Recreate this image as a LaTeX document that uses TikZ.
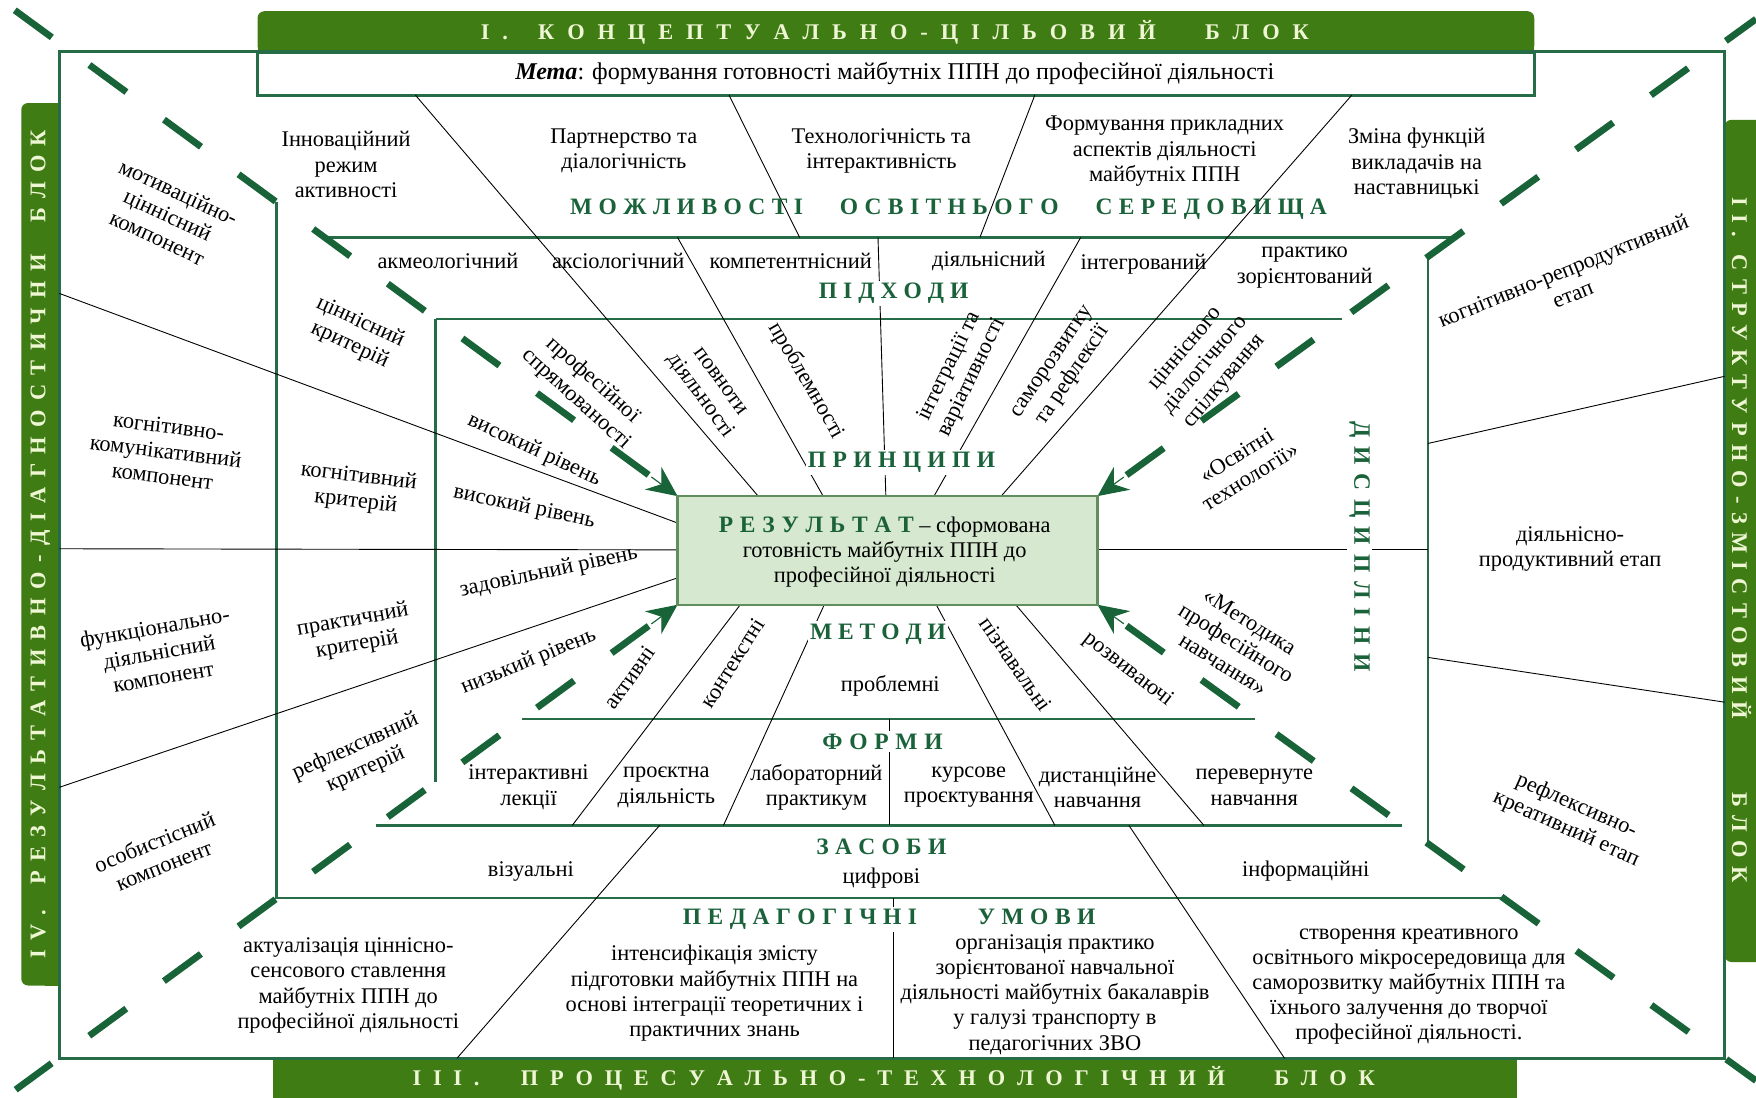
\documentclass[tikz,border=0pt]{standalone}
\usepackage{fontspec}
\setmainfont{Liberation Serif}
\usetikzlibrary{arrows.meta,calc}

\definecolor{bannerg}{RGB}{64,124,20}
\definecolor{bantext}{RGB}{238,246,212}
\definecolor{titleg}{RGB}{26,98,58}
\definecolor{lineg}{RGB}{38,108,70}
\definecolor{dashg}{RGB}{24,100,56}
\definecolor{resfill}{RGB}{214,232,207}
\definecolor{resborder}{RGB}{96,142,92}

\newdimen\lsp
\newdimen\gapA
\newdimen\gapB
\def\endmark{endmark}
\def\gA{\kern\gapA}
\def\gB{\kern\gapB}
\def\spaced#1{\spacedA#1\endmark\kern-\lsp}
\def\spacedA#1{\ifx#1\endmark\else#1\kern\lsp\expandafter\spacedA\fi}

\begin{document}
\begin{tikzpicture}[x=1pt,y=-1pt,
  txt/.style={font=\fontsize{20}{22.5}\selectfont, align=center, inner sep=0pt},
  ttl/.style={font=\bfseries\fontsize{21}{23}\selectfont, text=titleg, inner sep=2pt},
  ttlw/.style={ttl, fill=white},
  bantxt/.style={font=\bfseries\fontsize{20}{22}\selectfont, text=bantext, inner sep=0pt},
  frameln/.style={draw=lineg, line width=3.2pt},
  bandln/.style={draw=lineg, line width=2.3pt},
  rayln/.style={draw=black, line width=0.8pt},
  diagln/.style={draw=dashg, line width=6pt, dash pattern=on 41pt off 41.6pt},
  cornerarrow/.style={draw=dashg, fill=dashg, line width=1pt, -{Stealth[length=27pt,width=25pt,inset=9pt]}},
  resbox/.style={draw=resborder, fill=resfill, line width=2.2pt, minimum width=375pt, minimum height=97pt, inner sep=0pt}
]
\useasboundingbox (0,0) rectangle (1568,980);

% banners
\fill[bannerg, rounded corners=6pt] (230,10) rectangle (1370,47);
\fill[bannerg] (230,30) rectangle (1370,47);
\fill[bannerg, rounded corners=6pt] (19,92) rectangle (53,880);
\fill[bannerg] (40,92) rectangle (53,880);
\fill[bannerg, rounded corners=6pt] (1540,107) rectangle (1600,859);
\fill[bannerg] (244,945) rectangle (1355,990);

% outer frame
\draw[frameln] (53,46) rectangle (1540,945);
% goal box
\draw[draw=lineg, line width=2.5pt, fill=white] (230,47) rectangle (1370,85);

% corner coordinates
\coordinate (bNW) at (605,443);
\coordinate (bNE) at (980,443);
\coordinate (bSW) at (605,540);
\coordinate (bSE) at (980,540);
\coordinate (TLo) at (13,9);
\coordinate (TRo) at (1568,17);
\coordinate (BLo) at (14,973);
\coordinate (BRo) at (1568,965);

% band lines
\draw[bandln] (290,212) -- (1299,212);
\draw[bandln] (389.5,285) -- (1198,285);
\draw[bandln] (247,180.6) -- (247,802) -- (1342.5,802);
\draw[bandln] (389,284.7) -- (389,698.3);
\draw[bandln] (1275,229.3) -- (1275,753.2);
\draw[bandln] (466,642) -- (1121,642);
\draw[bandln] (336,737) -- (1252,737);

% black rays
\draw[rayln] (371,85) -- (677,443);
\draw[rayln] (651,85) -- (714,212);
\draw[rayln] (605,212) -- (735,443);
\draw[rayln] (784,212) -- (791,443);
\draw[rayln] (965,212) -- (834,443);
\draw[rayln] (924,85) -- (875,212);
\draw[rayln] (1207,85) -- (894,443);
\draw[rayln] (53,262) -- (605,467);
\draw[rayln] (53,490) -- (605,491);
\draw[rayln] (53,703) -- (605,516);
\draw[rayln] (980,491) -- (1275,491);
\draw[rayln] (1275,396) -- (1540,336);
\draw[rayln] (1275,587) -- (1540,627);
\draw[rayln] (661,540) -- (511,737);
\draw[rayln] (736,540) -- (646,737);
\draw[rayln] (794,642) -- (794,737);
\draw[rayln] (836,540) -- (942,737);
\draw[rayln] (907,540) -- (1075,737);
\draw[rayln] (589,737) -- (408,945);
\draw[rayln] (1008,737) -- (1147,945);
\draw[rayln] (798,802) -- (798,945);

% dashed diagonals and arrows
\draw[diagln] ($(bNW)!32pt!(TLo)$) -- (TLo);
\draw[diagln] ($(bNE)!32pt!(TRo)$) -- (TRo);
\draw[diagln] ($(bSW)!32pt!(BLo)$) -- (BLo);
\draw[diagln] ($(bSE)!32pt!(BRo)$) -- (BRo);
\draw[cornerarrow] ($(bNW)!29pt!(TLo)$) -- (bNW);
\draw[cornerarrow] ($(bNE)!29pt!(TRo)$) -- (bNE);
\draw[cornerarrow] ($(bSW)!29pt!(BLo)$) -- (bSW);
\draw[cornerarrow] ($(bSE)!29pt!(BRo)$) -- (bSE);

% result box
\node[resbox] (res) at (792.5,491.5) {};
\node[txt] (restext) at (790,493) {{\color{titleg}\bfseries\fontsize{21}{22}\selectfont\lsp=6pt\spaced{РЕЗУЛЬТАТ}}\kern5pt– сформована\\готовність майбутніх ППН до\\професійної діяльності};

% banner texts
\node[bantxt] (t1) at (799,29) {\lsp=11.5pt\gapA=4pt\gapB=21pt\spaced{I.\gA КОНЦЕПТУАЛЬНО-ЦІЛЬОВИЙ\gB БЛОК}};
\node[bantxt, rotate=-90] (t2) at (1555,482) {\lsp=7.5pt\gapA=1pt\gapB=50pt\spaced{II.\gA СТРУКТУРНО-ЗМІСТОВИЙ\gB БЛОК}};
\node[bantxt] (t3) at (798,963) {\lsp=10.5pt\gapA=16pt\gapB=23pt\spaced{III.\gA ПРОЦЕСУАЛЬНО-ТЕХНОЛОГІЧНИЙ\gB БЛОК}};
\node[bantxt, rotate=90] (t4) at (36,486) {\lsp=8.3pt\gapA=5.4pt\gapB=11.4pt\spaced{IV.\gA РЕЗУЛЬТАТИВНО-ДІАГНОСТИЧНИ\gB БЛОК}};

% goal
\node[txt, font=\fontsize{21.5}{23}\selectfont] (meta) at (799,66) {\textbf{\textit{Мета}}: формування готовності майбутніх ППН до професійної діяльності};

% opportunities
\node[txt] (o1) at (309,147) {Інноваційний\\режим\\активності};
\node[txt] (o2) at (557,135) {Партнерство та\\діалогічність};
\node[txt] (o3) at (787,135) {Технологічність та\\інтерактивність};
\node[txt] (o4) at (1040,135) {Формування прикладних\\аспектів діяльності\\майбутніх ППН};
\node[txt] (o5) at (1265,146) {Зміна функцій\\викладачів на\\наставницькі};
\node[ttl] (mos) at (847,187) {\lsp=5.7pt\gapA=21.6pt\spaced{МОЖЛИВОСТІ\gA ОСВІТНЬОГО\gA СЕРЕДОВИЩА}};

% approaches
\node[txt] (p1) at (400,233) {акмеологічний};
\node[txt] (p2) at (552,233) {аксіологічний};
\node[txt] (p3) at (706,233) {компетентнісний};
\node[txt] (p4) at (883,233) {діяльнісний};
\node[txt] (p5) at (1021,236) {інтегрований};
\node[txt] (p6) at (1165,239) {практико\\зорієнтований};
\node[ttlw] (pidh) at (798,262) {\lsp=5.4pt\spaced{ПІДХОДИ}};

% principles
\node[txt, rotate=-42] (q1) at (522,348) {професійної\\спрямованості};
\node[txt, rotate=-54] (q2) at (633,348) {повноти\\діяльності};
\node[txt, rotate=-60] (q3) at (720,340) {проблемності};
\node[txt, rotate=64] (q4) at (858,332) {інтеграції та\\варіативності};
\node[txt, rotate=56] (q5) at (950,330) {саморозвитку\\та рефлексії};
\node[txt, rotate=50] (q6) at (1076,326) {ціннісного\\діалогічного\\спілкування};
\node[ttlw] (princ) at (805,413) {\lsp=5.7pt\spaced{ПРИНЦИПИ}};

% left block
\node[txt, rotate=-25] (c1) at (150,192) {мотиваційно-\\ціннісний\\компонент};
\node[txt, rotate=-7] (c2) at (148,403) {когнітивно-\\комунікативний\\компонент};
\node[txt, rotate=10] (c3) at (142,582) {функціонально-\\діяльнісний\\компонент};
\node[txt, rotate=22] (c4) at (142,762) {особистісний\\компонент};
\node[txt, rotate=-25] (k1) at (317,298) {ціннісний\\критерій};
\node[txt, rotate=-7] (k2) at (319,437) {когнітивний\\критерій};
\node[txt, rotate=10] (k3) at (317,565) {практичний\\критерій};
\node[txt, rotate=24] (k4) at (322,677) {рефлексивний\\критерій};
\node[txt, rotate=-25] (r1) at (477,402) {високий рівень};
\node[txt, rotate=-12] (r2) at (468,453) {високий рівень};
\node[txt, rotate=12] (r3) at (490,511) {задовільний рівень};
\node[txt, rotate=22] (r4) at (472,591) {низький рівень};

% right block
\node[txt, rotate=22] (e1) at (1400,252) {когнітивно-репродуктивний\\етап};
\node[txt] (e2) at (1402,490) {діяльнісно-\\продуктивний етап};
\node[txt, rotate=-24] (e3) at (1403,730) {рефлексивно-\\креативний етап};
\node[txt, rotate=32] (d1) at (1110,416) {«Освітні\\технології»};
\node[txt, rotate=-32] (d2) at (1104,574) {«Методика\\професійного\\навчання»};
\node[ttlw, rotate=-90] (disc) at (1214,488) {\lsp=8pt\spaced{ДИСЦИПЛІНИ}};

% methods
\node[ttlw] (met) at (784,566) {\lsp=5.3pt\spaced{МЕТОДИ}};
\node[txt, rotate=55] (m1) at (562,605) {активні};
\node[txt, rotate=58] (m2) at (654,592) {контекстні};
\node[txt] (m3) at (795,612) {проблемні};
\node[txt, rotate=-55] (m4) at (907,593) {пізнавальні};
\node[txt, rotate=-38] (m5) at (1007,598) {розвиваючі};

% forms
\node[ttlw] (form) at (788,662) {\lsp=6pt\spaced{ФОРМИ}};
\node[txt] (f1) at (472,703) {інтерактивні\\лекції};
\node[txt] (f2) at (595,703) {проєктна\\діяльність};
\node[txt] (f3) at (729,703) {лабораторний\\практикум};
\node[txt] (f4) at (865,703) {курсове\\проєктування};
\node[txt] (f5) at (980,703) {дистанційне\\навчання};
\node[txt] (f6) at (1120,703) {перевернуте\\навчання};

% means
\node[ttlw] (zas) at (787,756) {\lsp=5.6pt\spaced{ЗАСОБИ}};
\node[txt] (z1) at (474,778) {візуальні};
\node[txt] (z2) at (787,784) {цифрові};
\node[txt] (z3) at (1166,778) {інформаційні};

% conditions
\node[ttlw] (ped) at (794,821) {\lsp=5.8pt\gapA=42.6pt\spaced{ПЕДАГОГІЧНІ\gA УМОВИ}};
\node[txt] (u1) at (311,880) {актуалізація ціннісно-\\сенсового ставлення\\майбутніх ППН до\\професійної діяльності};
\node[txt] (u2) at (638,887) {інтенсифікація змісту\\підготовки майбутніх ППН на\\основі інтеграції теоретичних і\\практичних знань};
\node[txt] (u3) at (942,888) {організація практико\\зорієнтованої навчальної\\діяльності майбутніх бакалаврів\\у галузі транспорту в\\педагогічних ЗВО};
\node[txt] (u4) at (1258,881) {створення креативного\\освітнього мікросередовища для\\саморозвитку майбутніх ППН та\\їхнього залучення до творчої\\професійної діяльності.};
\end{tikzpicture}
\end{document}
